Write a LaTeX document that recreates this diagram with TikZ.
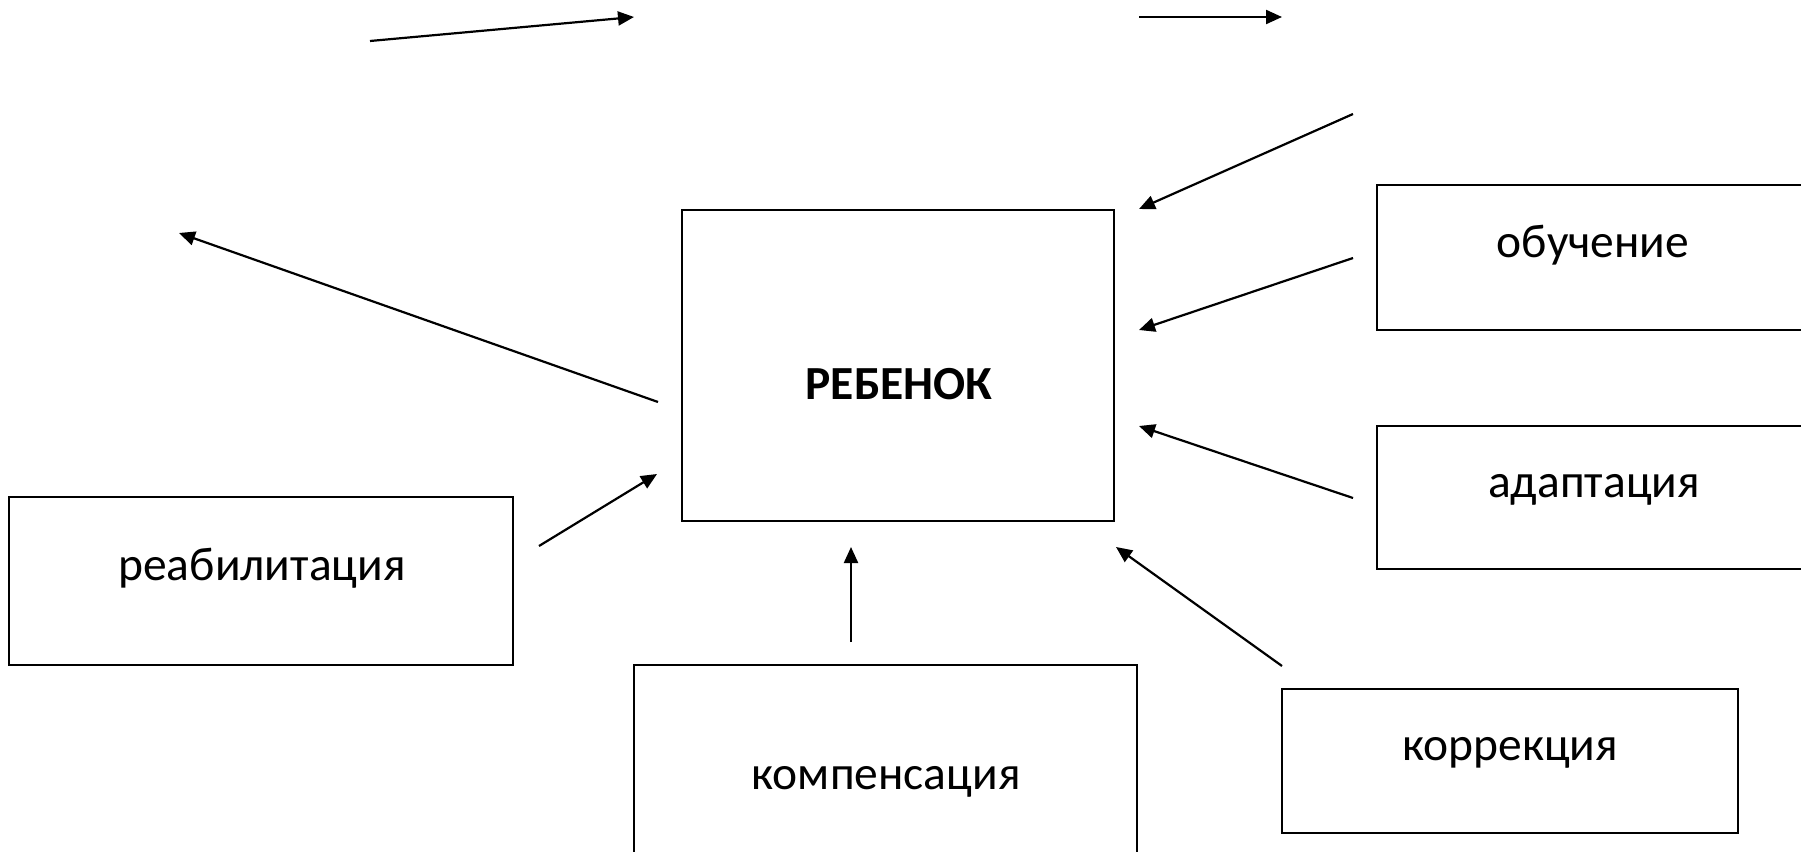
\documentclass[tikz,border=0pt]{standalone}
\usepackage{fontspec}
\setmainfont{Carlito}
\usetikzlibrary{arrows.meta}
\begin{document}
\begin{tikzpicture}[x=1pt,y=-1pt,
  box/.style={draw, line width=2pt, inner sep=0pt},
  arr/.style={line width=2.2pt, -{Triangle[length=16pt,width=14pt]}},
  lbl/.style={anchor=base, inner sep=0pt, font=\fontsize{47.5}{52}\selectfont}]
\useasboundingbox (0,0) rectangle (1801,851);
\clip (0,0) rectangle (1801,851);
% boxes
\node[box, minimum width=432pt, minimum height=311pt] (child) at (898,365.5) {};
\node[box, minimum width=438pt, minimum height=145pt] (ob) at (1596,257.5) {};
\node[box, minimum width=438pt, minimum height=143pt] (ad) at (1596,497.5) {};
\node[box, minimum width=504pt, minimum height=168pt] (reab) at (261,581) {};
\node[box, minimum width=503pt, minimum height=205pt] (komp) at (885.5,767.5) {};
\node[box, minimum width=456pt, minimum height=144pt] (korr) at (1510,761) {};
% texts
\node[lbl] (childT) at (899,399) {\bfseries РЕБЕНОК};
\node[lbl] (obT) at (1593,257) {обучение};
\node[lbl] (adT) at (1594,497) {адаптация};
\node[lbl] (reabT) at (262,580) {реабилитация};
\node[lbl] (kompT) at (886,789) {компенсация};
\node[lbl] (korrT) at (1510,760) {коррекция};
% arrow end points
\coordinate (a1s) at (370,41);   \coordinate (a1e) at (634,17);
\coordinate (a2s) at (1139,17);  \coordinate (a2e) at (1282,17);
\coordinate (a3s) at (1353,114); \coordinate (a3e) at (1139,209);
\coordinate (a4s) at (1353,258); \coordinate (a4e) at (1139,330);
\coordinate (a5s) at (1353,498); \coordinate (a5e) at (1139,426);
\coordinate (a6s) at (1282,666); \coordinate (a6e) at (1116,547);
\coordinate (a7s) at (851,642);  \coordinate (a7e) at (851,547);
\coordinate (a8s) at (539,546);  \coordinate (a8e) at (657,474);
\coordinate (a9s) at (658,402);  \coordinate (a9e) at (179,233);
\foreach \i in {1,...,9} \draw[arr] (a\i s) -- (a\i e);
\end{tikzpicture}
\end{document}
